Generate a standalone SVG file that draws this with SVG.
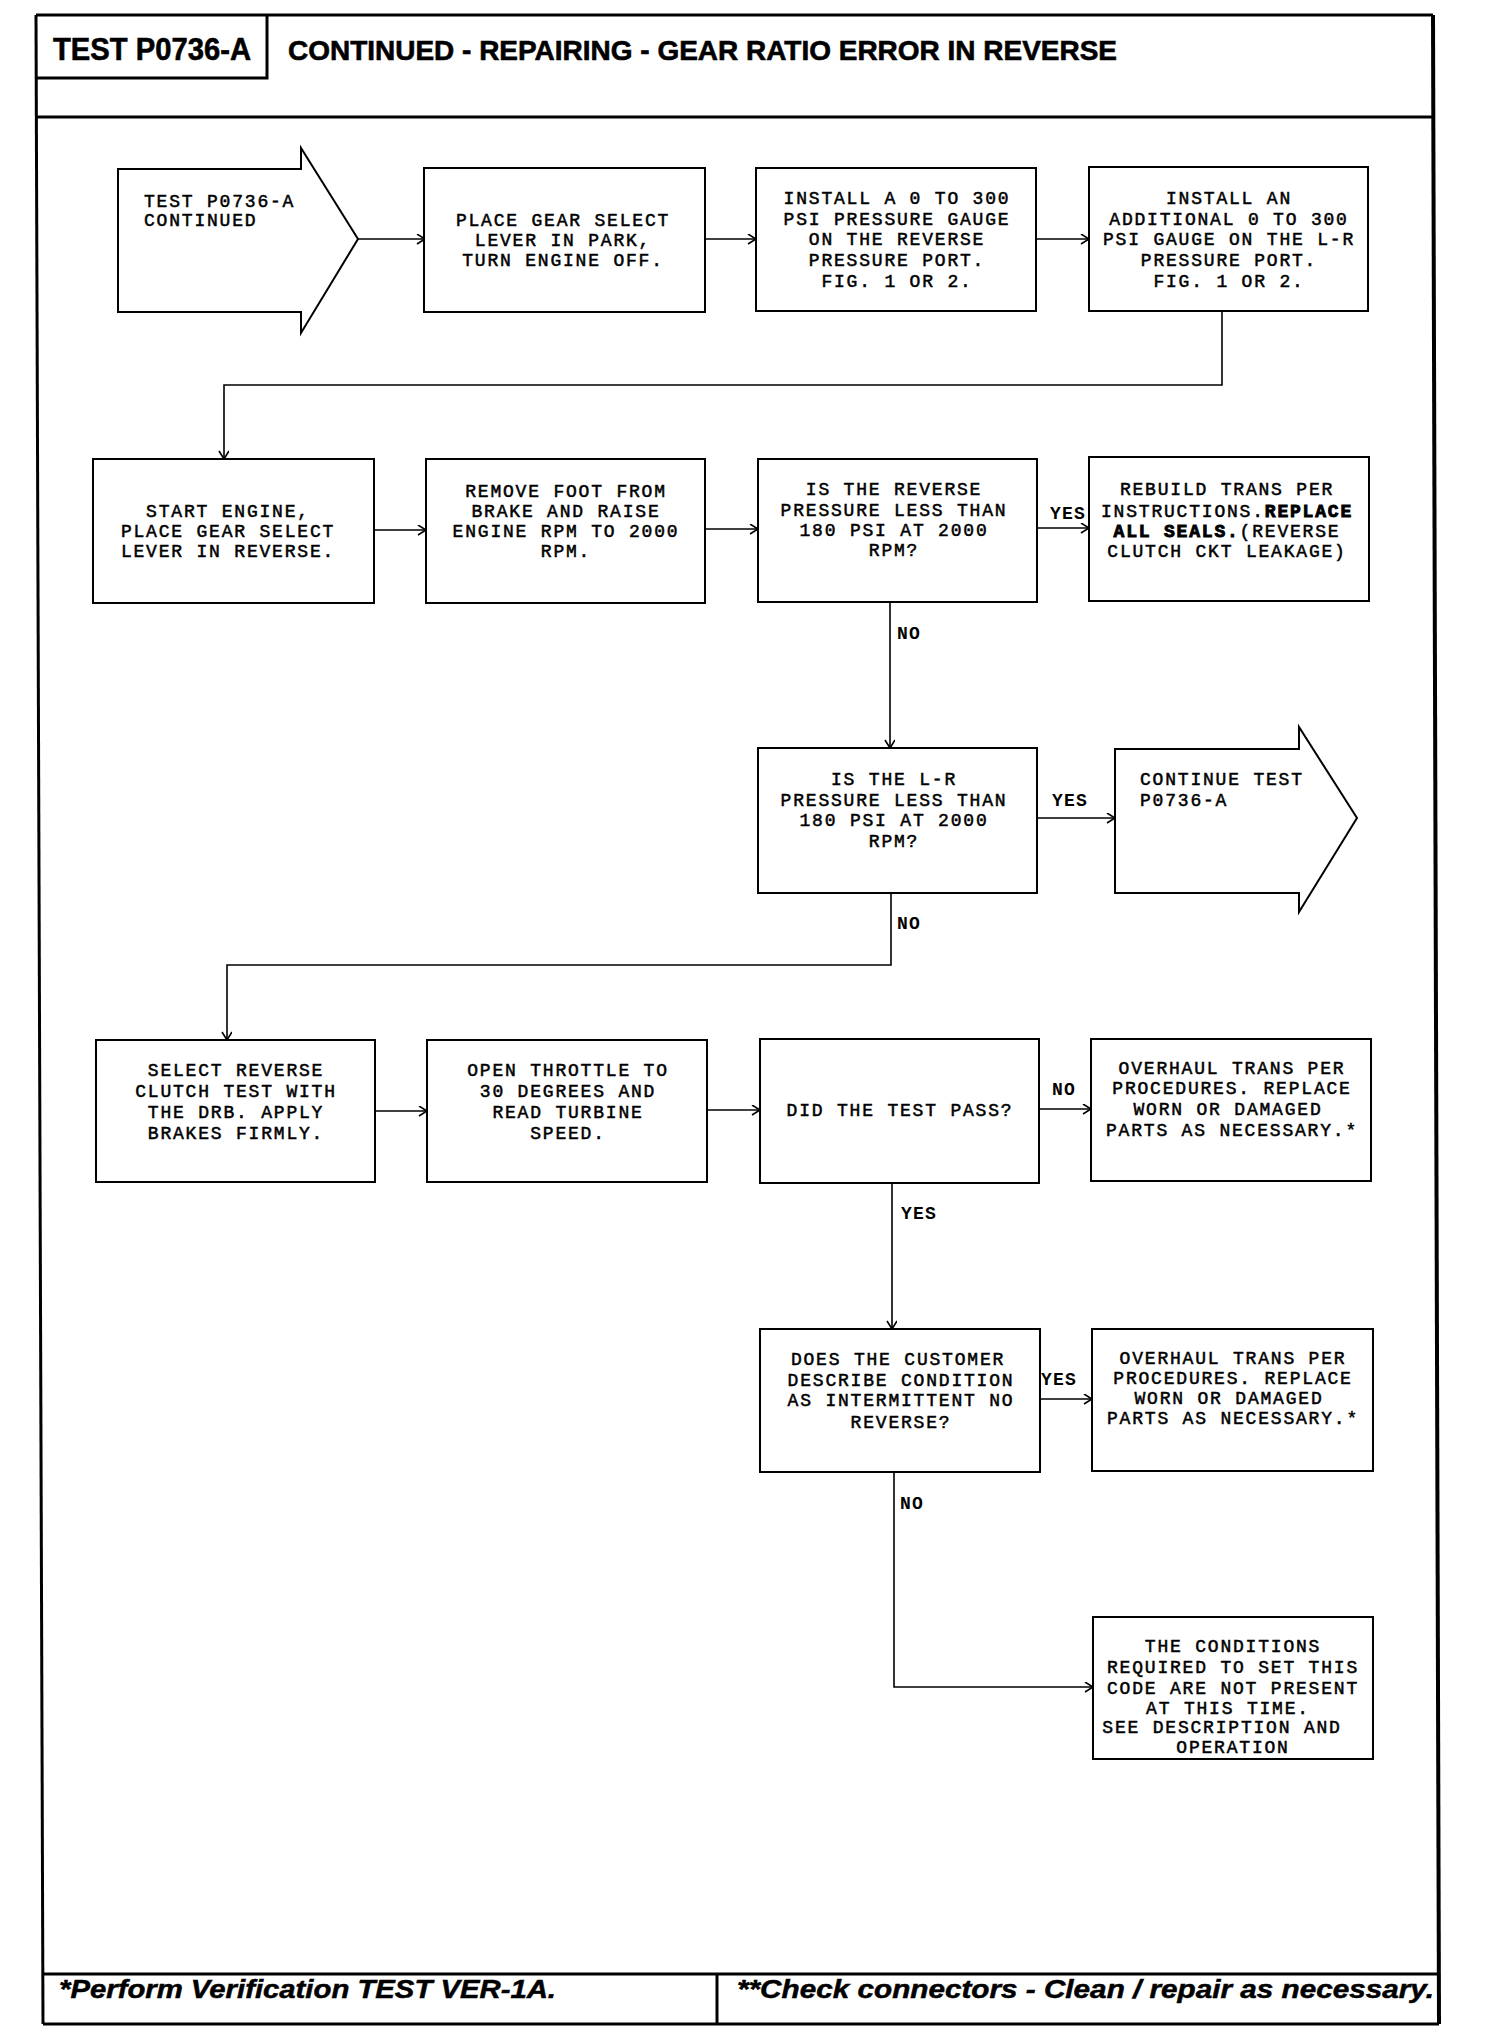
<svg xmlns="http://www.w3.org/2000/svg" width="1504" height="2034" viewBox="0 0 1504 2034">
<style>
.box{fill:#fff;stroke:#000;stroke-width:2}
.frame{fill:none;stroke:#000;stroke-width:3}
.t{font-family:"Liberation Mono","DejaVu Sans Mono",monospace;font-size:18px;letter-spacing:1.8px;fill:#000;stroke:#000;stroke-width:0.5;text-anchor:middle}
.s{text-anchor:start}
.b{font-weight:bold;stroke-width:0.9}
.lbl{font-family:"Liberation Mono","DejaVu Sans Mono",monospace;font-size:18px;letter-spacing:1.2px;font-weight:bold;fill:#000}
.conn{fill:none;stroke:#000;stroke-width:1.6;marker-end:url(#arr)}
.hd{font-family:"Liberation Sans",Arial,sans-serif;font-weight:bold;fill:#000;stroke:#000;stroke-width:0.6}
.ft{font-family:"Liberation Sans",Arial,sans-serif;font-weight:bold;font-style:italic;font-size:26px;fill:#000;stroke:#000;stroke-width:0.5}
</style>
<defs>
<marker id="arr" markerUnits="userSpaceOnUse" markerWidth="12" markerHeight="12" refX="9" refY="5" orient="auto">
<path d="M1,0 L9,5 L1,10" fill="none" stroke="#000" stroke-width="1.6"/>
</marker>
</defs>
<rect width="1504" height="2034" fill="#fff"/>

<g id="frame">
<line class="frame" x1="36" y1="15" x2="1433" y2="15"/>
<line class="frame" x1="36" y1="117" x2="1434" y2="117"/>
<line class="frame" x1="36" y1="15" x2="43" y2="2024"/>
<line x1="1433" y1="15" x2="1439" y2="2024" stroke="#000" stroke-width="4"/>
<line class="frame" x1="43" y1="1974" x2="1439" y2="1974"/>
<line class="frame" x1="43" y1="2024" x2="1439" y2="2024"/>
<line class="frame" x1="717" y1="1974" x2="717" y2="2024"/>
<polyline class="frame" points="267,15 267,78 36,78"/>
</g>

<g id="header">
<text class="hd" x="53" y="60" font-size="32" textLength="198" lengthAdjust="spacingAndGlyphs">TEST P0736-A</text>
<text class="hd" x="288" y="60" font-size="28" textLength="829" lengthAdjust="spacingAndGlyphs">CONTINUED - REPAIRING - GEAR RATIO ERROR IN REVERSE</text>
</g>

<g id="footer">
<text class="ft" x="59" y="1998" textLength="497" lengthAdjust="spacingAndGlyphs">*Perform Verification TEST VER-1A.</text>
<text class="ft" x="737" y="1998" textLength="697" lengthAdjust="spacingAndGlyphs">**Check connectors - Clean / repair as necessary.</text>
</g>

<g id="connectors">
<line class="conn" x1="358" y1="239" x2="425" y2="239"/>
<line class="conn" x1="705" y1="239" x2="756" y2="239"/>
<line class="conn" x1="1036" y1="239" x2="1089" y2="239"/>
<polyline class="conn" points="1222,311 1222,385 224,385 224,459"/>
<line class="conn" x1="374" y1="530" x2="426" y2="530" stroke-width="3"/>
<line class="conn" x1="705" y1="529" x2="758" y2="529"/>
<line class="conn" x1="1037" y1="528" x2="1089" y2="528"/>
<line class="conn" x1="890" y1="602" x2="890" y2="748"/>
<line class="conn" x1="1037" y1="818" x2="1115" y2="818"/>
<polyline class="conn" points="891,893 891,965 227,965 227,1040"/>
<line class="conn" x1="375" y1="1111" x2="427" y2="1111"/>
<line class="conn" x1="707" y1="1110" x2="760" y2="1110"/>
<line class="conn" x1="1039" y1="1109" x2="1091" y2="1109"/>
<line class="conn" x1="892" y1="1183" x2="892" y2="1329"/>
<line class="conn" x1="1040" y1="1399" x2="1092" y2="1399"/>
<polyline class="conn" points="894,1472 894,1687 1093,1687"/>
<text class="lbl" x="897" y="639">NO</text>
<text class="lbl" x="1050" y="519">YES</text>
<text class="lbl" x="897" y="929">NO</text>
<text class="lbl" x="1052" y="806">YES</text>
<text class="lbl" x="1052" y="1095">NO</text>
<text class="lbl" x="901" y="1219">YES</text>
<text class="lbl" x="1041" y="1385">YES</text>
<text class="lbl" x="900" y="1509">NO</text>
</g>

<g id="n1">
<polygon class="box" points="118,169 301,169 301,148 358,239 301,333 301,312 118,312"/>
<text class="t s" x="144" y="207">TEST P0736-A</text>
<text class="t s" x="144" y="226">CONTINUED</text>
</g>

<g id="n2">
<rect class="box" x="424" y="168" width="281" height="144"/>
<text class="t" x="563" y="226">PLACE GEAR SELECT</text>
<text class="t" x="563" y="246">LEVER IN PARK,</text>
<text class="t" x="563" y="266">TURN ENGINE OFF.</text>
</g>

<g id="n3">
<rect class="box" x="756" y="168" width="280" height="143"/>
<text class="t" x="897" y="204">INSTALL A 0 TO 300</text>
<text class="t" x="897" y="225">PSI PRESSURE GAUGE</text>
<text class="t" x="897" y="245">ON THE REVERSE</text>
<text class="t" x="897" y="266">PRESSURE PORT.</text>
<text class="t" x="897" y="287">FIG. 1 OR 2.</text>
</g>

<g id="n4">
<rect class="box" x="1089" y="167" width="279" height="144"/>
<text class="t" x="1229" y="204">INSTALL AN</text>
<text class="t" x="1229" y="225">ADDITIONAL 0 TO 300</text>
<text class="t" x="1229" y="245">PSI GAUGE ON THE L-R</text>
<text class="t" x="1229" y="266">PRESSURE PORT.</text>
<text class="t" x="1229" y="287">FIG. 1 OR 2.</text>
</g>

<g id="n5">
<rect class="box" x="93" y="459" width="281" height="144"/>
<text class="t" x="228" y="517">START ENGINE,</text>
<text class="t" x="228" y="537">PLACE GEAR SELECT</text>
<text class="t" x="228" y="557">LEVER IN REVERSE.</text>
</g>

<g id="n6">
<rect class="box" x="426" y="459" width="279" height="144"/>
<text class="t" x="566" y="497">REMOVE FOOT FROM</text>
<text class="t" x="566" y="517">BRAKE AND RAISE</text>
<text class="t" x="566" y="537">ENGINE RPM TO 2000</text>
<text class="t" x="566" y="557">RPM.</text>
</g>

<g id="n7">
<rect class="box" x="758" y="459" width="279" height="143"/>
<text class="t" x="894" y="495">IS THE REVERSE</text>
<text class="t" x="894" y="515.5">PRESSURE LESS THAN</text>
<text class="t" x="894" y="536">180 PSI AT 2000</text>
<text class="t" x="894" y="556">RPM?</text>
</g>

<g id="n8">
<rect class="box" x="1089" y="457" width="280" height="144"/>
<text class="t" x="1227" y="495">REBUILD TRANS PER</text>
<text class="t" x="1227" y="517">INSTRUCTIONS.<tspan class="b">REPLACE</tspan></text>
<text class="t" x="1227" y="537"><tspan class="b">ALL SEALS.</tspan>(REVERSE</text>
<text class="t" x="1227" y="557">CLUTCH CKT LEAKAGE)</text>
</g>

<g id="n9">
<rect class="box" x="758" y="748" width="279" height="145"/>
<text class="t" x="894" y="785">IS THE L-R</text>
<text class="t" x="894" y="806">PRESSURE LESS THAN</text>
<text class="t" x="894" y="826">180 PSI AT 2000</text>
<text class="t" x="894" y="847">RPM?</text>
</g>

<g id="n10">
<polygon class="box" points="1115,749 1299,749 1299,727 1357,818 1299,912 1299,893 1115,893"/>
<text class="t s" x="1140" y="785">CONTINUE TEST</text>
<text class="t s" x="1140" y="806">P0736-A</text>
</g>

<g id="n11">
<rect class="box" x="96" y="1040" width="279" height="142"/>
<text class="t" x="236" y="1076">SELECT REVERSE</text>
<text class="t" x="236" y="1097">CLUTCH TEST WITH</text>
<text class="t" x="236" y="1118">THE DRB. APPLY</text>
<text class="t" x="236" y="1139">BRAKES FIRMLY.</text>
</g>

<g id="n12">
<rect class="box" x="427" y="1040" width="280" height="142"/>
<text class="t" x="568" y="1076">OPEN THROTTLE TO</text>
<text class="t" x="568" y="1097">30 DEGREES AND</text>
<text class="t" x="568" y="1118">READ TURBINE</text>
<text class="t" x="568" y="1139">SPEED.</text>
</g>

<g id="n13">
<rect class="box" x="760" y="1039" width="279" height="144"/>
<text class="t" x="900" y="1116">DID THE TEST PASS?</text>
</g>

<g id="n14">
<rect class="box" x="1091" y="1039" width="280" height="142"/>
<text class="t" x="1232" y="1074">OVERHAUL TRANS PER</text>
<text class="t" x="1232" y="1094">PROCEDURES. REPLACE</text>
<text class="t" x="1228" y="1115">WORN OR DAMAGED</text>
<text class="t" x="1232" y="1136">PARTS AS NECESSARY.*</text>
</g>

<g id="n15">
<rect class="box" x="760" y="1329" width="280" height="143"/>
<text class="t" x="898" y="1365">DOES THE CUSTOMER</text>
<text class="t" x="901" y="1386">DESCRIBE CONDITION</text>
<text class="t" x="901" y="1406">AS INTERMITTENT NO</text>
<text class="t" x="901" y="1428">REVERSE?</text>
</g>

<g id="n16">
<rect class="box" x="1092" y="1329" width="281" height="142"/>
<text class="t" x="1233" y="1364">OVERHAUL TRANS PER</text>
<text class="t" x="1233" y="1384">PROCEDURES. REPLACE</text>
<text class="t" x="1229" y="1404">WORN OR DAMAGED</text>
<text class="t" x="1233" y="1424">PARTS AS NECESSARY.*</text>
</g>

<g id="n17">
<rect class="box" x="1093" y="1617" width="280" height="142"/>
<text class="t" x="1233" y="1652">THE CONDITIONS</text>
<text class="t" x="1233" y="1673">REQUIRED TO SET THIS</text>
<text class="t" x="1233" y="1694">CODE ARE NOT PRESENT</text>
<text class="t" x="1228" y="1714">AT THIS TIME.</text>
<text class="t" x="1222" y="1733">SEE DESCRIPTION AND</text>
<text class="t" x="1233" y="1753">OPERATION</text>
</g>
</svg>
